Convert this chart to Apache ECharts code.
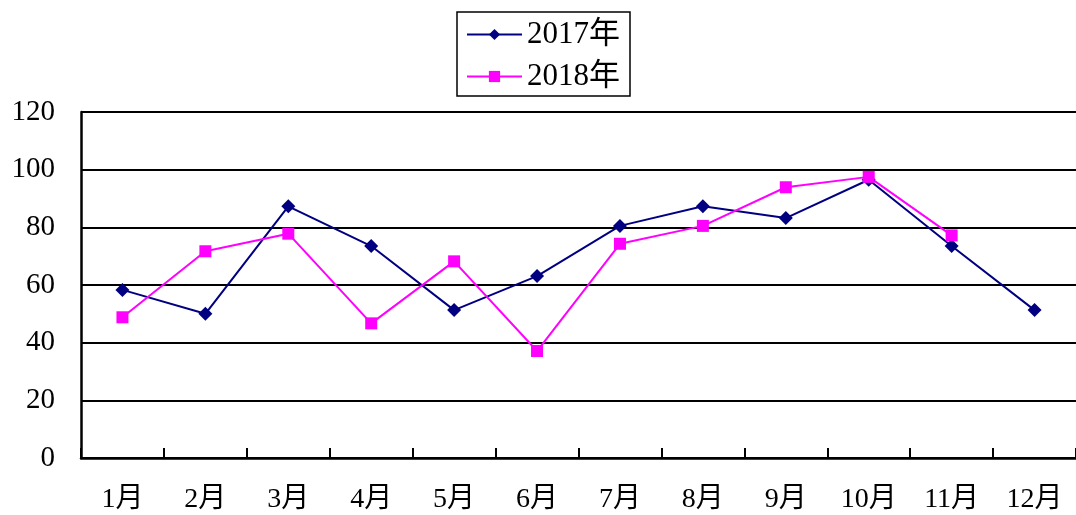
<!DOCTYPE html>
<html>
<head>
<meta charset="utf-8">
<script src="https://cdn.jsdelivr.net/npm/echarts@6/dist/echarts.min.js"></script>
<style>html,body{margin:0;padding:0;background:#fff}#c{width:1076px;height:515px}</style>
</head>
<body>
<div id="c"></div>
<script>
const categories = ['1月','2月','3月','4月','5月','6月','7月','8月','9月','10月','11月','12月'];
const series2017 = [58.3, 50, 87.3, 73.5, 51.3, 63.1, 80.5, 87.3, 83.2, 96.5, 73.5, 51.3];
const series2018 = [48.8, 71.7, 77.8, 46.7, 68.2, 37.1, 74.3, 80.5, 93.9, 97.5, 77.2, null];
const yTicks = [0, 20, 40, 60, 80, 100, 120];

const FONT = '"Liberation Serif", "DejaVu Serif", "Noto Sans CJK SC", serif';
const chart = echarts.init(document.getElementById('c'));
chart.setOption({
  animation: false,
  backgroundColor: '#fff',
  legend: {
    orient: 'vertical',
    left: 457,
    top: 12,
    padding: [7, 10, 4, 9],
    borderColor: '#000',
    borderWidth: 1.5,
    itemWidth: 55,
    itemHeight: 14,
    itemGap: 11,
    textStyle: { fontFamily: FONT, fontSize: 31, color: '#000' },
    data: ['2017年', '2018年']
  },
  grid: { left: 81, top: 112, width: 1000, height: 346 },
  xAxis: {
    type: 'category',
    data: categories,
    boundaryGap: true,
    axisLine: { lineStyle: { color: '#000', width: 2.5 } },
    axisTick: { show: true, inside: true, interval: 0, length: 10, lineStyle: { color: '#000', width: 2 } },
    axisLabel: { interval: 0, margin: 28, fontFamily: FONT, fontSize: 28, color: '#000' },
    splitLine: { show: false }
  },
  yAxis: {
    type: 'value',
    min: yTicks[0],
    max: yTicks[yTicks.length - 1],
    interval: 20,
    axisLine: { show: true, lineStyle: { color: '#000', width: 2.5 } },
    axisTick: { show: false },
    axisLabel: { margin: 26, padding: [10, 0, 0, 0], fontFamily: FONT, fontSize: 29, color: '#000' },
    splitLine: { show: true, lineStyle: { color: '#000', width: 2 } }
  },
  series: [
    {
      name: '2017年', type: 'line', data: series2017,
      symbol: 'diamond', symbolSize: 14,
      itemStyle: { color: '#000080' },
      lineStyle: { color: '#000080', width: 2 }
    },
    {
      name: '2018年', type: 'line', data: series2018,
      symbol: 'rect', symbolSize: 12,
      itemStyle: { color: '#FF00FF' },
      lineStyle: { color: '#FF00FF', width: 2 }
    }
  ]
});
</script>
</body>
</html>
